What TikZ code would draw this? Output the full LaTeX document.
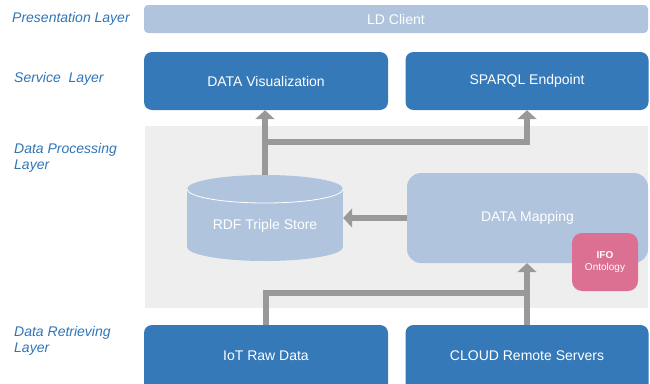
\documentclass[tikz,border=0pt]{standalone}
\usepackage{fontspec}
\setmainfont{Liberation Sans}
\usetikzlibrary{arrows.meta}
\definecolor{dblue}{HTML}{3579B8}
\definecolor{lblue}{HTML}{B0C4DE}
\definecolor{bggray}{HTML}{EEEEEE}
\definecolor{agray}{HTML}{999999}
\definecolor{pink}{HTML}{DB7093}
\definecolor{lblcol}{HTML}{2E75B6}
\begin{document}
\begin{tikzpicture}[x=1pt,y=-1pt,
  darkbox/.style={rectangle, rounded corners=8pt, fill=dblue, text=white, inner sep=0pt,
    font=\fontsize{14}{16}\selectfont},
  ldbox/.style={rectangle, rounded corners=4pt, fill=lblue, text=white, inner sep=0pt,
    font=\fontsize{14}{16}\selectfont},
  mapbox/.style={rectangle, rounded corners=14pt, fill=lblue, text=white, inner sep=0pt,
    font=\fontsize{14}{16}\selectfont},
  ifobox/.style={rectangle, rounded corners=10pt, fill=pink, text=white, inner sep=0pt,
    align=center, font=\fontsize{10}{11.5}\selectfont},
  lbl/.style={anchor=west, inner sep=0pt, text=lblcol, align=left,
    font=\fontsize{14}{16.5}\selectfont\itshape},
  conn/.style={draw=agray, line width=6pt, -{Triangle[width=19pt,length=9pt]}},
  plain/.style={draw=agray, line width=6pt}]
\useasboundingbox (0,0) rectangle (650,383);
\clip (0,0) rectangle (650,383);

% layer labels
\node[lbl] (lpres) at (12,19) {Presentation Layer};
\node[lbl] (lserv) at (14,79) {Service~~Layer};
\node[lbl] (lproc) at (14,158) {Data Processing\\Layer};
\node[lbl] (lretr) at (14,341) {Data Retrieving\\Layer};

% presentation & service
\node[ldbox, minimum width=504pt, minimum height=28pt] (ld) at (396,19) {LD Client};
\node[darkbox, minimum width=244pt, minimum height=58pt] (vis) at (266,81) {DATA Visualization};
\node[darkbox, minimum width=243pt, minimum height=58pt] (sparql) at (527,81) {SPARQL Endpoint};

% processing background
\node[fill=bggray, inner sep=0pt, minimum width=503pt, minimum height=182pt] (proc) at (396.5,217) {};

% cylinder
\node[inner sep=0pt, minimum width=156pt, minimum height=86pt] (rdf) at (265,218) {};
\fill[lblue] (187,189) rectangle (343,247);
\fill[lblue] (265,189) ellipse [x radius=78pt, y radius=14pt];
\fill[lblue] (265,247) ellipse [x radius=78pt, y radius=14pt];
\draw[white, line width=0.8pt] (187,189) arc[start angle=180, end angle=360, x radius=78pt, y radius=14pt];
\node[text=white, inner sep=0pt, font=\fontsize{14}{16}\selectfont] (rdftext) at (265,226) {RDF Triple Store};

% mapping
\node[mapbox, minimum width=241pt, minimum height=90pt] (map) at (527.5,218) {DATA Mapping};
\node[ifobox, minimum width=66pt, minimum height=58pt] (ifo) at (605,262) {\textbf{IFO}\\Ontology};

% retrieving
\node[darkbox, minimum width=244pt, minimum height=72pt] (iot) at (266,361) {\raisebox{11pt}{IoT Raw Data}};
\node[darkbox, minimum width=243pt, minimum height=72pt] (cloud) at (527,361) {\raisebox{11pt}{CLOUD Remote Servers}};

% connectors
\coordinate (j1) at (265,142);
\coordinate (j2) at (527,293);
\draw[conn] (rdf.north) -- (rdf.north |- vis.south);
\draw[conn] (j1) -| (sparql.south);
\draw[conn] (map.west) -- (rdf.east);
\draw[plain] (iot.north) |- (j2);
\draw[conn] (cloud.north) -- (cloud.north |- map.south);
\end{tikzpicture}
\end{document}
